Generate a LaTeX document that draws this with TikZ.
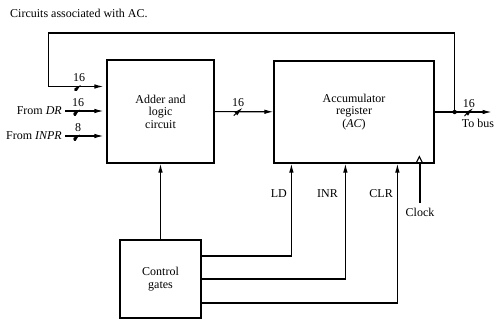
\documentclass[tikz,border=0pt]{standalone}
\usepackage{fontspec}
\setmainfont{Liberation Serif}
\usetikzlibrary{arrows.meta,positioning,calc}

\begin{document}
\begin{tikzpicture}[
  x=1pt, y=-1pt,
  font=\fontsize{12}{12.5}\selectfont,
  >={Latex[length=9pt,width=4.5pt]},
  box/.style={
    draw,
    line width=1.2pt,
    align=center,
    inner sep=2pt
  },
  arrow/.style={->, line width=1.1pt},
  wire/.style={line width=1.1pt},
  lbl/.style={inner sep=1pt},
  sig/.style={inner sep=1pt},
  bus/.style={
    minimum width=9pt,
    minimum height=8pt,
    inner sep=0pt,
    path picture={\draw[line width=1pt] (path picture bounding box.south west) -- (path picture bounding box.north east);},
    label={[lbl, label distance=-1.5pt]above:#1}
  }
]
  \useasboundingbox (0,0) rectangle (495,321);

  \node[anchor=base west, inner sep=0pt] (title) at (10,18) {Circuits associated with AC.};

  \node[box, minimum width=107pt, minimum height=103pt] (adder) at (160.5,111.5) {Adder and\\logic\\circuit};
  \node[box, minimum width=160pt, minimum height=102pt] (ac) at (354,112) {Accumulator\\register\\(\textit{AC})};
  \node[box, minimum width=81pt, minimum height=78pt] (ctrl) at (160.5,279) {Control\\gates};

  \node[sig, anchor=east] (dr) at (63,111) {From \textit{DR}};
  \node[sig, anchor=east] (inpr) at (63,136) {From \textit{INPR}};
  \draw[arrow, shorten <=2pt, shorten >=3pt] (dr) -- (adder.west |- dr) node[bus=16, pos=0.35] {};
  \draw[arrow, shorten <=2pt, shorten >=3pt] (inpr) -- (adder.west |- inpr) node[bus=8, pos=0.35] {};

  \draw[arrow] (adder) -- (ac) node[bus=16, pos=0.4] {};

  \coordinate (jn) at ($(ac.east)+(20,0)$);
  \draw[arrow] (ac.east) -- ++(57,0) node[bus=16, pos=0.6] {};
  \node[sig, anchor=north] (tobus) at (478,118) {To bus};
  \fill (jn) circle (2.2pt);
  \draw[arrow, shorten >=3pt] (jn) -- ++(0,-79) -| ($(adder.west)+(-58,-25)$) -- ($(adder.west)+(0,-25)$) node[bus=16, pos=0.53] {};

  \draw[arrow] (ctrl) -- (adder);
  \draw[arrow] ($(ctrl.east)+(0,-23)$) -| ($(ac.south west)+(18,0)$);
  \draw[arrow] (ctrl.east) -| ($(ac.south west)+(72,0)$);
  \draw[arrow] ($(ctrl.east)+(0,24)$) -| ($(ac.south west)+(124,0)$);
  \node[sig, anchor=east] (ld) at (288,194) {LD};
  \node[sig, anchor=east] (inr) at (339,194) {INR};
  \node[sig, anchor=east] (clr) at (394,194) {CLR};

  \node[sig] (clk) at (420,212) {Clock};
  \draw[wire, shorten <=4pt] (clk.north) -- (clk.north |- ac.south);
  \draw[wire] ($(ac.south west)+(142.5,0)$) -- ++(3.5,-7) -- ++(3.5,7);
\end{tikzpicture}
\end{document}
